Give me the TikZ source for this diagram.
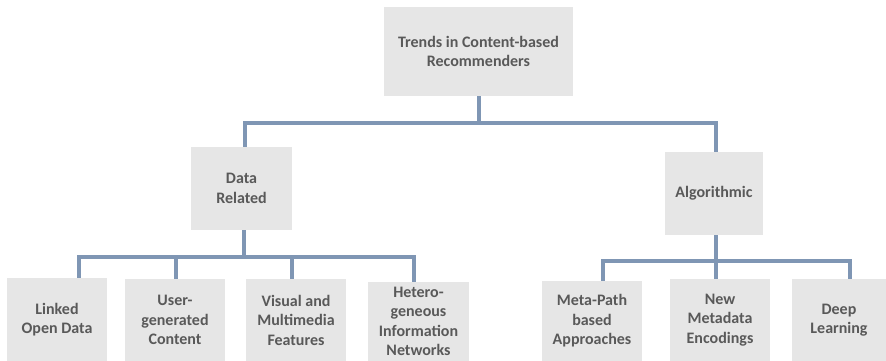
\documentclass[tikz,border=0pt]{standalone}
\usepackage{fontspec}
\setmainfont{Carlito}
\definecolor{boxfill}{RGB}{230,230,230}
\definecolor{conncol}{RGB}{127,150,180}
\definecolor{txtcol}{RGB}{89,89,89}
\begin{document}
\begin{tikzpicture}[x=1pt,y=-1pt,
  box/.style={draw=none,fill=boxfill,rectangle,inner sep=0pt,align=center,
    text=txtcol,font=\fontsize{16}{19.5}\selectfont\bfseries},
  conn/.style={draw=conncol,line width=3.8pt,line join=miter}]
\useasboundingbox (0,0) rectangle (886,361);
% boxes
\node[box,minimum width=189pt,minimum height=89pt] (top) at (478.5,51.5) {Trends in Content-based\\Recommenders};
\node[box,minimum width=101pt,minimum height=83pt] (data) at (241.5,188.5) {Data\\Related};
\node[box,minimum width=98pt,minimum height=83pt] (algo) at (714,193.5) {Algorithmic};
\node[box,minimum width=100pt,minimum height=83pt] (linked) at (57,319.5) {Linked\\Open Data};
\node[box,minimum width=100pt,minimum height=82pt] (user) at (175,320) {User-\\generated\\Content};
\node[box,minimum width=100pt,minimum height=82pt] (visual) at (296,320) {Visual and\\Multimedia\\Features};
\node[box,minimum width=101pt,minimum height=79pt] (hetero) at (418.5,321.5) {Hetero-\\geneous\\Information\\Networks};
\node[box,minimum width=100pt,minimum height=80pt] (meta) at (592,321) {Meta-Path\\based\\Approaches};
\node[box,minimum width=100pt,minimum height=82pt] (new) at (720,320) {New\\Metadata\\Encodings};
\node[box,minimum width=94pt,minimum height=82pt] (deep) at (839,320) {Deep\\Learning};
% junctions
\coordinate (tb) at (479,123);
\coordinate (tl) at (245,123);
\coordinate (tr) at (716,123);
\coordinate (dc) at (244,257);
\coordinate (d1) at (79,257);
\coordinate (d2) at (176,257);
\coordinate (d3) at (292,257);
\coordinate (d4) at (414,257);
\coordinate (a1) at (603,261);
\coordinate (a2) at (716,261);
\coordinate (a3) at (850,261);
% connectors
\draw[conn] (top.south -| tb) -- (tb);
\draw[conn] (data.north -| tl) -- (tl) -- (tr) -- (algo.north -| tr);
\draw[conn] (data.south -| dc) -- (dc);
\draw[conn] (linked.north -| d1) -- (d1) -- (d4) -- (hetero.north -| d4);
\draw[conn] (d2) -- (user.north -| d2);
\draw[conn] (d3) -- (visual.north -| d3);
\draw[conn] (algo.south -| a2) -- (new.north -| a2);
\draw[conn] (meta.north -| a1) -- (a1) -- (a3) -- (deep.north -| a3);
\end{tikzpicture}
\end{document}
